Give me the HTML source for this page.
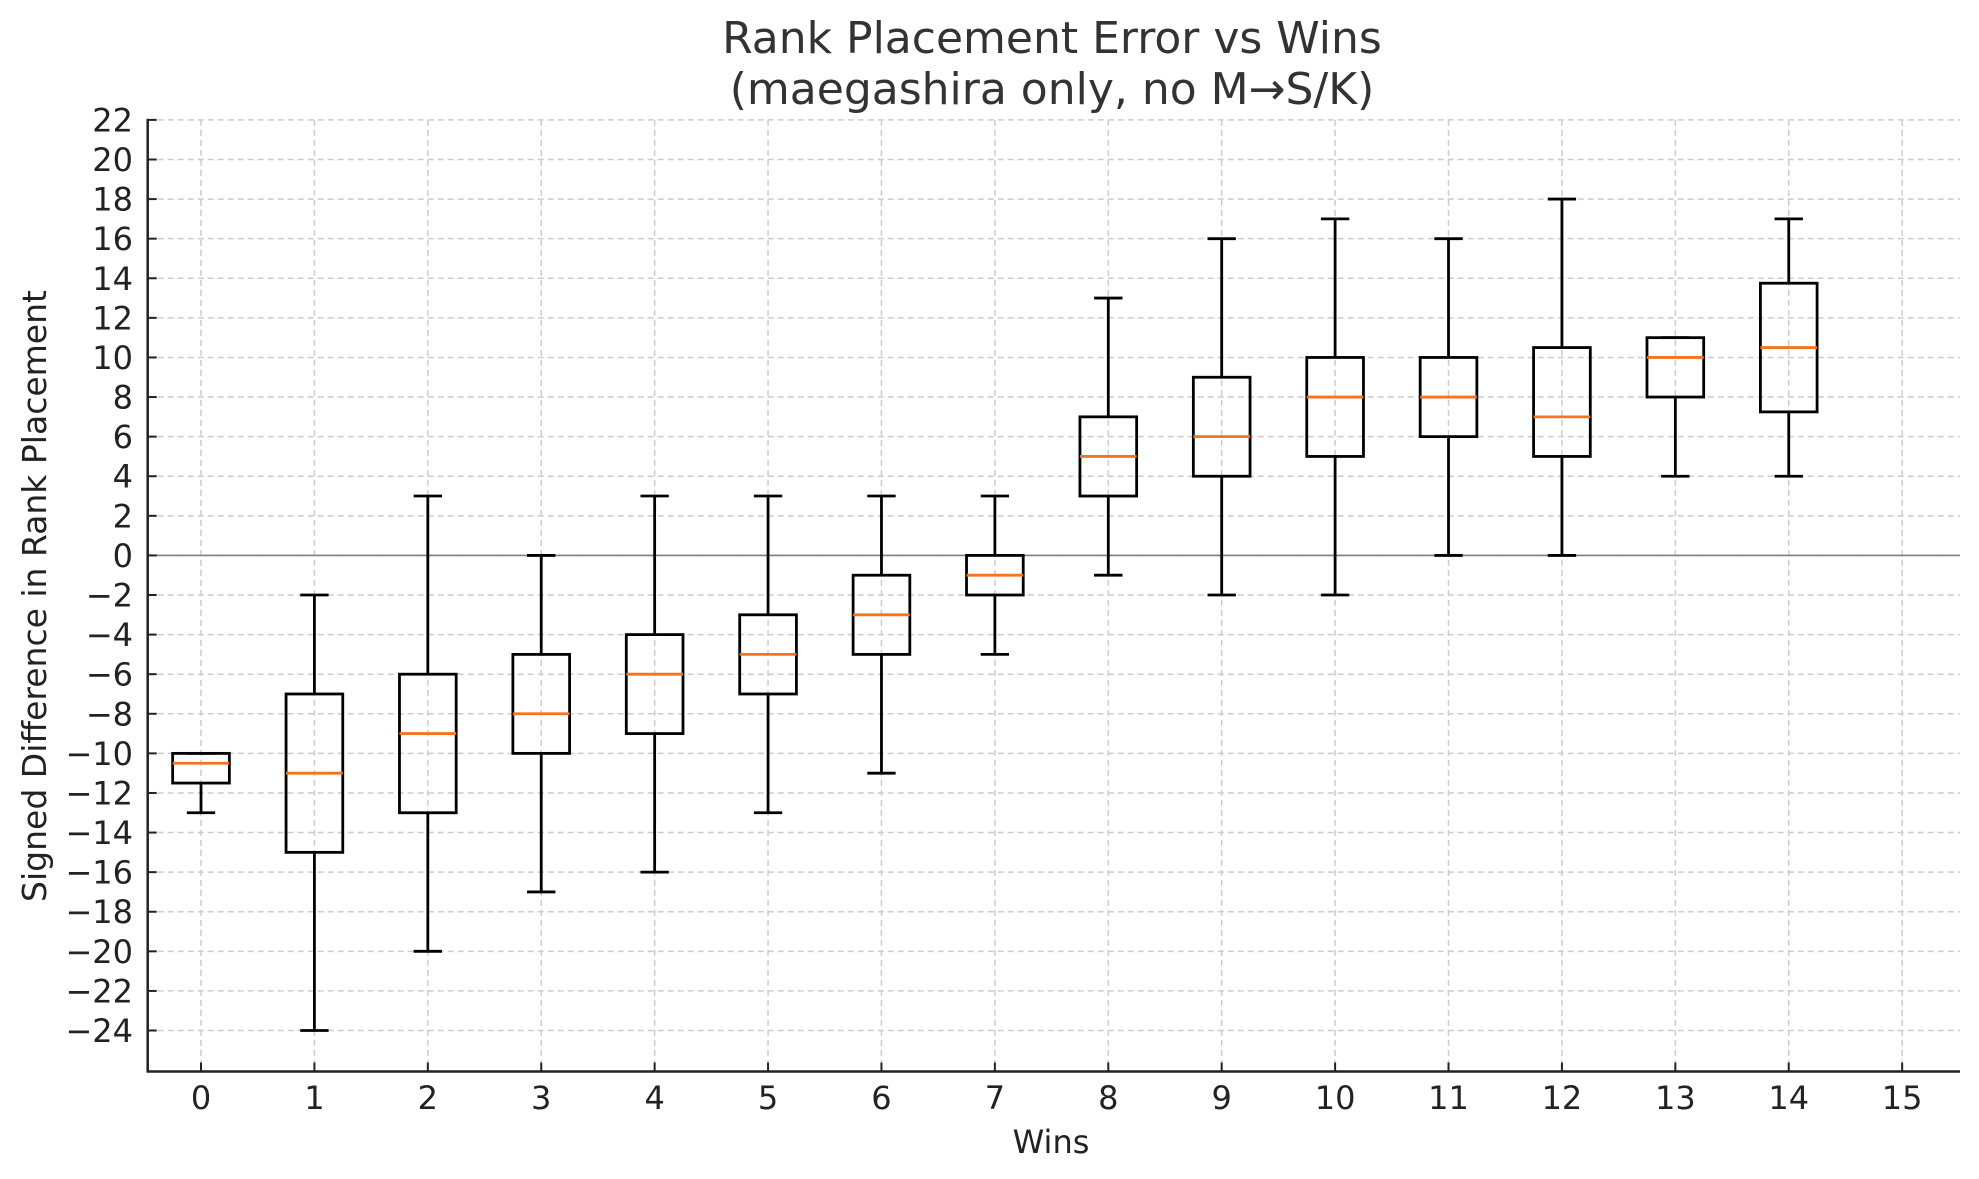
<!DOCTYPE html>
<html><head><meta charset="utf-8"><style>
html,body{margin:0;padding:0;background:#fff;}
svg{display:block;font-family:"DejaVu Sans","Liberation Sans",sans-serif;}
</style></head><body>
<svg id="chart" width="1979" height="1179" viewBox="0 0 1979 1179">
<text x="1052" y="53" font-size="44" fill="#333" text-anchor="middle">Rank Placement Error vs Wins</text>
<text x="1052" y="104" font-size="44" fill="#333" text-anchor="middle">(maegashira only, no M→S/K)</text>
<text x="1051" y="1153" font-size="32" fill="#222" text-anchor="middle">Wins</text>
<text transform="translate(46,596) rotate(-90)" font-size="33" fill="#222" text-anchor="middle">Signed Difference in Rank Placement</text>
<g id="grid"></g><g id="boxes"></g><g id="axes"></g>
</svg>
<script>
const categories = [0,1,2,3,4,5,6,7,8,9,10,11,12,13,14];
const q1Values = [-11.5,-15,-13,-10,-9,-7,-5,-2,3,4,5,6,5,8,7.25];
const medianValues = [-10.5,-11,-9,-8,-6,-5,-3,-1,5,6,8,8,7,10,10.5];
const q3Values = [-10,-7,-6,-5,-4,-3,-1,0,7,9,10,10,10.5,11,13.75];
const whiskerLow = [-13,-24,-20,-17,-16,-13,-11,-5,-1,-2,-2,0,0,4,4];
const whiskerHigh = [-10,-2,3,0,3,3,3,3,13,16,17,16,18,11,17];
const xTickLabels = [0,1,2,3,4,5,6,7,8,9,10,11,12,13,14,15];
const yTickLabels = [22,20,18,16,14,12,10,8,6,4,2,0,-2,-4,-6,-8,-10,-12,-14,-16,-18,-20,-22,-24];

const L=147.7,R=1960,T=119.9,B=1071.5;
const xMin=-0.47,xMax=15.51,yMin=-26.07,yMax=22;
const X=v=>L+(v-xMin)/(xMax-xMin)*(R-L);
const Y=v=>B-(v-yMin)/(yMax-yMin)*(B-T);
const NS='http://www.w3.org/2000/svg';
function mk(tag,attrs,parent){const e=document.createElementNS(NS,tag);for(const k in attrs)e.setAttribute(k,attrs[k]);parent.appendChild(e);return e;}
const grid=document.getElementById('grid'),boxes=document.getElementById('boxes'),axes=document.getElementById('axes');

xTickLabels.forEach(v=>{
  const g=mk('line',{x1:X(v),x2:X(v),y1:T,y2:B,stroke:'#cccccc','stroke-width':1.5,'stroke-dasharray':'6,4'},grid);
  
  
  const t=mk('line',{x1:X(v),x2:X(v),y1:B,y2:B-9,stroke:'#222','stroke-width':2},axes);
  
  
  const lb=mk('text',{x:X(v),y:1109,'font-size':32,fill:'#222','text-anchor':'middle'},axes);
  lb.textContent=v;
  
  
});
yTickLabels.forEach(v=>{
  const g=mk('line',{x1:L,x2:R,y1:Y(v),y2:Y(v),stroke:'#cccccc','stroke-width':1.5,'stroke-dasharray':'6,4'},grid);
  
  
  const t=mk('line',{x1:L,x2:L+9,y1:Y(v),y2:Y(v),stroke:'#222','stroke-width':2},axes);
  
  
  const lb=mk('text',{x:133,y:Y(v)+11.5,'font-size':32,fill:'#222','text-anchor':'end'},axes);
  lb.textContent=(v<0?'\u2212'+(-v):v);
  
  
});
const zl=mk('line',{x1:L,x2:R,y1:Y(0),y2:Y(0),stroke:'#808080','stroke-width':1.6},grid);



categories.forEach((c,i)=>{
  const g=mk('g',{},boxes);
  
  
  const hw=0.25*(X(1)-X(0)),cw=0.125*(X(1)-X(0)),cx=X(c);
  const s={stroke:'#000','stroke-width':2.8,fill:'none'};
  mk('line',Object.assign({x1:cx,x2:cx,y1:Y(q1Values[i]),y2:Y(whiskerLow[i])},s),g);
  mk('line',Object.assign({x1:cx,x2:cx,y1:Y(q3Values[i]),y2:Y(whiskerHigh[i])},s),g);
  mk('line',Object.assign({x1:cx-cw,x2:cx+cw,y1:Y(whiskerLow[i]),y2:Y(whiskerLow[i])},s),g);
  mk('line',Object.assign({x1:cx-cw,x2:cx+cw,y1:Y(whiskerHigh[i]),y2:Y(whiskerHigh[i])},s),g);
  mk('rect',Object.assign({x:cx-hw,y:Y(q3Values[i]),width:2*hw,height:Y(q1Values[i])-Y(q3Values[i])},s),g);
  mk('line',{x1:cx-hw,x2:cx+hw,y1:Y(medianValues[i]),y2:Y(medianValues[i]),stroke:'#f5721f','stroke-width':2.8},g);
});
const sl=mk('line',{x1:L,x2:L,y1:T-1,y2:B+1,stroke:'#222','stroke-width':2.5},axes);


const sb=mk('line',{x1:L-1,x2:R,y1:B,y2:B,stroke:'#222','stroke-width':2.5},axes);


</script>
</body></html>
